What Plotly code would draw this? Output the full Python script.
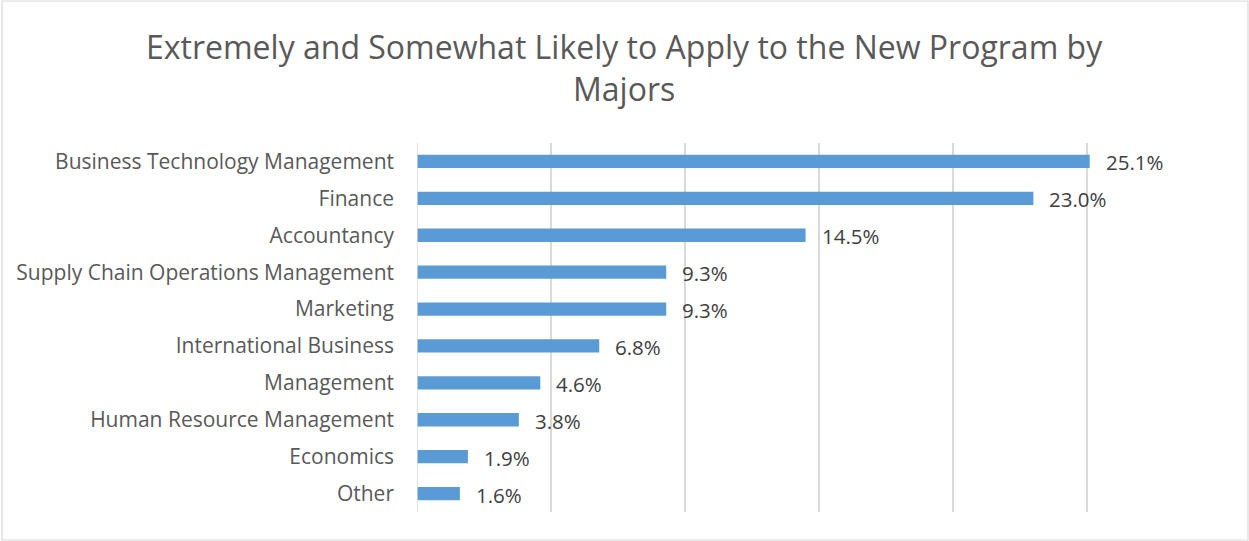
import plotly.graph_objects as go

majors = ["Business Technology Management", "Finance", "Accountancy",
          "Supply Chain Operations Management", "Marketing", "International Business",
          "Management", "Human Resource Management", "Economics", "Other"]
values = [25.1, 23.0, 14.5, 9.3, 9.3, 6.8, 4.6, 3.8, 1.9, 1.6]
x_ticks = [0, 5, 10, 15, 20, 25, 30]

FONT = "Open Sans"
PLOT_H = 369
fig = go.Figure(go.Bar(
    x=values, y=majors, orientation="h",
    marker=dict(color="#5b9bd5", line=dict(width=0)),
    width=0.36, hoverinfo="skip",
))

for m, v in zip(majors, values):
    fig.add_annotation(x=v, y=m, text=f"{v:.1f}%", showarrow=False,
                       xanchor="left", xshift=14, yshift=-1,
                       font=dict(family=FONT, size=20.5, color="#404040"))

fig.add_annotation(xref="paper", yref="paper", x=0.5 - (417 - 28) / 2 / 804,
                   y=1 + (143 - 67) / PLOT_H, xanchor="center", yanchor="middle",
                   text="Extremely and Somewhat Likely to Apply to the New Program by<br>Majors",
                   showarrow=False, align="center",
                   font=dict(family=FONT, size=32, color="#595959"))

fig.update_layout(
    width=1249, height=541,
    margin=dict(l=417, r=28, t=143, b=29),
    paper_bgcolor="white", plot_bgcolor="white",
    xaxis=dict(range=[0, 30], tickvals=x_ticks, showticklabels=False,
               showgrid=True, gridcolor="#d9d9d9", gridwidth=1.5,
               zeroline=False, showline=False, fixedrange=True),
    yaxis=dict(categoryorder="array", categoryarray=majors[::-1],
               tickfont=dict(family=FONT, size=21, color="#595959"),
               ticks="", ticklabelstandoff=22, showgrid=False, zeroline=False,
               showline=False, range=[-0.5, len(majors) - 0.5]),
    showlegend=False,
    shapes=[dict(type="rect", xref="paper", yref="paper",
                 x0=-415/804, x1=1+27/804, y0=-28/PLOT_H, y1=1+142/PLOT_H,
                 line=dict(color="#d9d9d9", width=1.2), layer="below")],
)
fig.add_shape(type="line", xref="x", yref="paper", x0=0, x1=0, y0=0, y1=1,
              line=dict(color="#d9d9d9", width=1.5))

fig.write_html("out.html")
